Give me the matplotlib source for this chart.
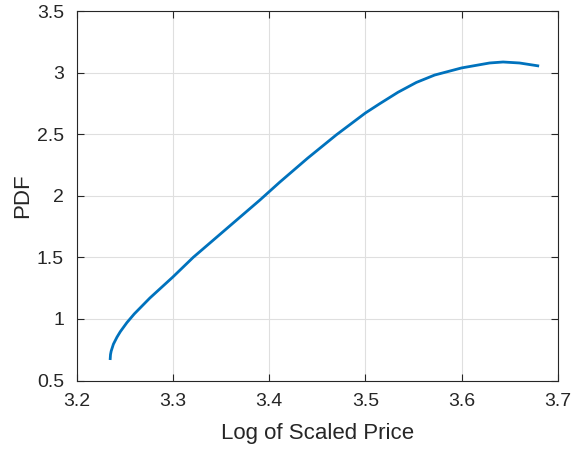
import matplotlib
matplotlib.use("Agg")
import matplotlib.pyplot as plt

# values
log_price = [3.235, 3.2353, 3.236, 3.2383, 3.242, 3.2455, 3.2523, 3.26, 3.2762,
             3.30, 3.3212, 3.3904, 3.411, 3.44, 3.4699, 3.50, 3.5148, 3.5338,
             3.5529, 3.5719, 3.60, 3.629, 3.643, 3.66, 3.679]
pdf = [0.678, 0.711, 0.739, 0.795, 0.852, 0.897, 0.97, 1.041, 1.17,
       1.34, 1.50, 1.965, 2.11, 2.305, 2.495, 2.672, 2.747, 2.84,
       2.92, 2.98, 3.038, 3.078, 3.086, 3.078, 3.055]

plt.rcParams["font.family"] = ["Liberation Sans", "DejaVu Sans"]

fig = plt.figure(figsize=(5.74, 4.49), dpi=100)
ax = fig.add_axes([0.1333, 0.1525, 0.8388, 0.8230])

ax.plot(log_price, pdf, color="#0072BD", linewidth=2)

ax.set_xlim(3.2, 3.7)
ax.set_ylim(0.5, 3.5)
ax.set_xticks([3.2, 3.3, 3.4, 3.5, 3.6, 3.7])
ax.set_xticklabels(["3.2", "3.3", "3.4", "3.5", "3.6", "3.7"])
ax.set_yticks([0.5, 1, 1.5, 2, 2.5, 3, 3.5])
ax.set_yticklabels(["0.5", "1", "1.5", "2", "2.5", "3", "3.5"])
ax.grid(True, color="#dfdfdf", linewidth=0.8)
ax.set_axisbelow(True)

for spine in ax.spines.values():
    spine.set_color("#262626")
    spine.set_linewidth(0.8)
ax.tick_params(direction="in", top=True, right=True, length=5, width=0.8,
               colors="#262626", labelsize=14)
ax.tick_params(axis="x", pad=9)
ax.tick_params(axis="y", pad=9)

ax.set_xlabel("Log of Scaled Price", fontsize=16, color="#262626", labelpad=9)
ax.set_ylabel("PDF", fontsize=16, color="#262626", labelpad=3)

fig.savefig("out.png", dpi=100)
